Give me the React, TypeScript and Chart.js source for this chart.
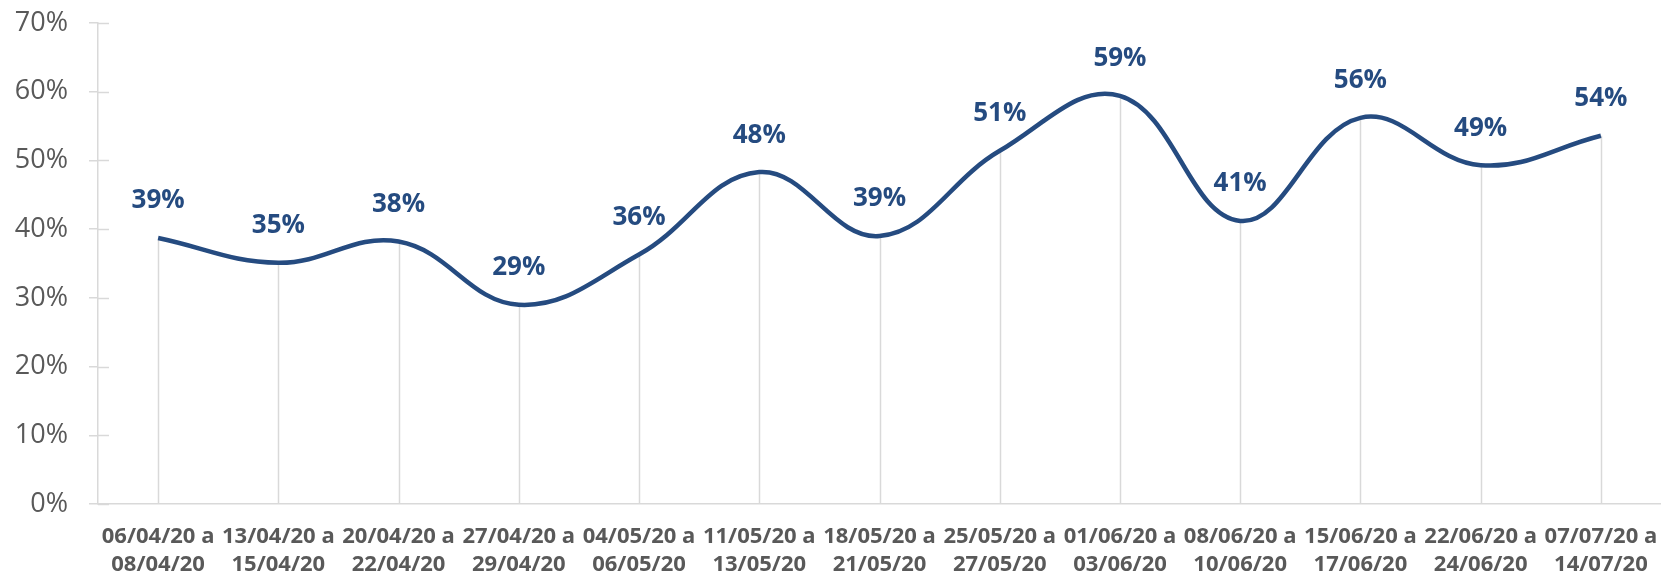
import React, { useEffect, useRef } from "react";
import { Chart, registerables } from "chart.js";

Chart.register(...registerables);

const periodStart = [
  "06/04/20 a", "13/04/20 a", "20/04/20 a", "27/04/20 a", "04/05/20 a", "11/05/20 a", "18/05/20 a",
  "25/05/20 a", "01/06/20 a", "08/06/20 a", "15/06/20 a", "22/06/20 a", "07/07/20 a",
];
const periodEnd = [
  "08/04/20", "15/04/20", "22/04/20", "29/04/20", "06/05/20", "13/05/20", "21/05/20",
  "27/05/20", "03/06/20", "10/06/20", "17/06/20", "24/06/20", "14/07/20",
];
const values = [38.7, 35.1, 38.2, 29.0, 36.3, 48.3, 39.0, 51.4, 59.4, 41.2, 56.2, 49.3, 53.6];
const yTicks = [0, 10, 20, 30, 40, 50, 60, 70];

const LINE_COLOR = "#254B80";
const GRID_COLOR = "#D9D9D9";
const TEXT_COLOR = "#595959";

const dropLines = {
  id: "dropLines",
  beforeDatasetsDraw(chart: any) {
    const meta = chart.getDatasetMeta(0);
    const { ctx, chartArea } = chart;
    ctx.save();
    ctx.strokeStyle = GRID_COLOR;
    ctx.lineWidth = 1.5;
    meta.data.forEach((pt: any) => {
      ctx.beginPath();
      ctx.moveTo(Math.round(pt.x) + 0.5, pt.y);
      ctx.lineTo(Math.round(pt.x) + 0.5, chartArea.bottom);
      ctx.stroke();
    });
    const y = chart.scales.y;
    ctx.beginPath();
    yTicks.forEach((v) => {
      const py = Math.round(y.getPixelForValue(v)) + 0.5;
      ctx.moveTo(chartArea.left, py);
      ctx.lineTo(chartArea.left + 11, py);
    });
    ctx.stroke();
    ctx.restore();
  },
};

const dataLabels = {
  id: "dataLabels",
  afterDatasetsDraw(chart: any) {
    const meta = chart.getDatasetMeta(0);
    const { ctx } = chart;
    ctx.save();
    ctx.fillStyle = LINE_COLOR;
    ctx.font = "bold 26px 'Open Sans'";
    ctx.textAlign = "center";
    ctx.textBaseline = "middle";
    meta.data.forEach((pt: any, i: number) => {
      ctx.fillText(Math.round(values[i]) + "%", pt.x, pt.y - 37);
    });
    ctx.restore();
  },
};

export default function App() {
  const ref = useRef<HTMLCanvasElement>(null);

  useEffect(() => {
    document.body.style.margin = "0";
    const labels = periodStart.map((s, i) => [s, periodEnd[i]]);
    const chart = new Chart(ref.current!, {
      type: "line",
      data: {
        labels,
        datasets: [
          {
            data: values,
            borderColor: LINE_COLOR,
            borderWidth: 4.5,
            pointRadius: 0,
            tension: 0.4,
            fill: false,
          },
        ],
      },
      options: {
        animation: false,
        responsive: false,
        maintainAspectRatio: false,
        layout: { padding: { top: 23, left: 0, right: 0, bottom: 0 } },
        plugins: { legend: { display: false }, tooltip: { enabled: false } },
        scales: {
          x: {
            offset: true,
            grid: { display: false },
            border: { display: true, color: GRID_COLOR, width: 1.5 },
            ticks: {
              autoSkip: false,
              maxRotation: 0,
              minRotation: 0,
              color: TEXT_COLOR,
              padding: 11,
              font: { family: "'Open Sans'", size: 22, weight: "bold", lineHeight: 1.27 },
            },
            afterFit(scale: any) {
              scale.height = 70;
              scale.paddingLeft = 0;
              scale.paddingRight = 0;
            },
          },
          y: {
            min: 0,
            max: 70,
            afterBuildTicks(scale: any) {
              scale.ticks = yTicks.map((v) => ({ value: v }));
            },
            grid: {
              drawOnChartArea: false,
              drawTicks: true,
              tickLength: 9,
              color: GRID_COLOR,
              lineWidth: 1.5,
            },
            border: { display: true, color: GRID_COLOR, width: 1.5 },
            ticks: {
              color: TEXT_COLOR,
              padding: 21,
              font: { family: "'Open Sans'", size: 27 },
              callback: (v: any) => v + "%",
            },
            afterFit(scale: any) {
              scale.width = 98;
              scale.paddingTop = 0;
              scale.paddingBottom = 0;
            },
          },
        },
      },
      plugins: [dropLines, dataLabels],
    });
    return () => chart.destroy();
  }, []);

  return (
    <div style={{ width: 1661, height: 574 }}>
      <canvas ref={ref} width={1661} height={574} style={{ display: "block" }} />
    </div>
  );
}
